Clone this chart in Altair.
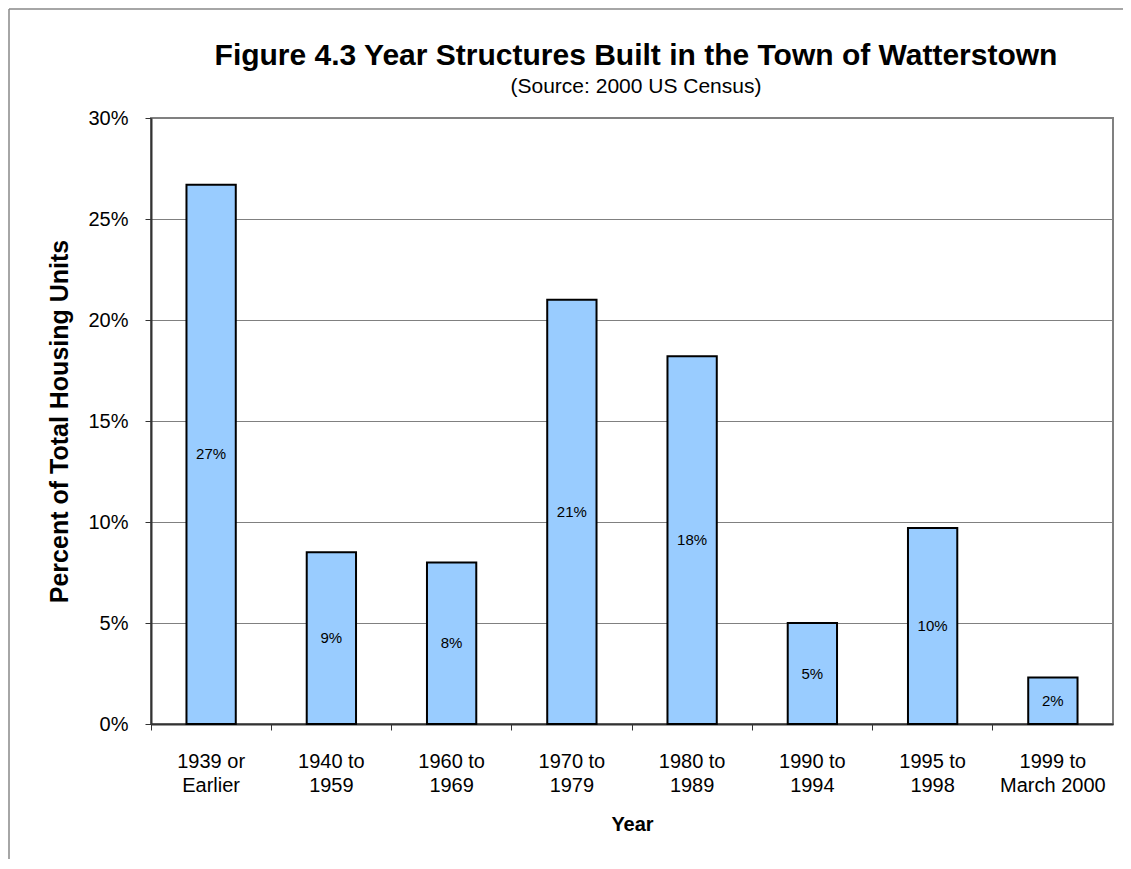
import altair as alt
import pandas as pd

categories = ["1939 or\nEarlier", "1940 to\n1959", "1960 to\n1969", "1970 to\n1979",
              "1980 to\n1989", "1990 to\n1994", "1995 to\n1998", "1999 to\nMarch 2000"]
percents = [26.7, 8.5, 8.0, 21.0, 18.2, 5.0, 9.7, 2.3]
bar_labels = ["27%", "9%", "8%", "21%", "18%", "5%", "10%", "2%"]
y_ticks = [0, 5, 10, 15, 20, 25, 30]

df = pd.DataFrame({"cat": categories, "pct": percents, "lab": bar_labels})
df["mid"] = df["pct"] / 2

FONT = "Liberation Sans"
W, H = 962, 606

xscale = alt.Scale(domain=categories, paddingInner=0, paddingOuter=0)
yscale = alt.Scale(domain=[0, 30], nice=False)

xaxis = alt.Axis(title="Year", labelExpr="split(datum.label, '\\n')",
                 labelAngle=0, labelFontSize=20, labelLineHeight=24,
                 labelPadding=21, labelColor="black", labelFont=FONT,
                 bandPosition=0,
                 ticks=True, tickSize=6, tickColor="#333333",
                 domainColor="#333333", domainWidth=2,
                 titleFont=FONT, titleFontSize=20, titleFontWeight="bold",
                 titlePadding=19, titleColor="black")
yaxis = alt.Axis(title="Percent of Total Housing Units", values=y_ticks,
                 labelExpr="datum.value + '%'", labelFontSize=20,
                 labelFont=FONT, labelColor="black", labelPadding=17,
                 tickSize=6, tickColor="#333333", domainColor="#333333",
                 domainWidth=2, gridColor="#808080", gridWidth=1,
                 titleFont=FONT, titleFontSize=25, titleFontWeight="bold",
                 titleColor="black", titlePadding=15)

base = alt.Chart(df)

bars = base.mark_bar(color="#99CCFF", stroke="black", strokeWidth=2,
                     width=alt.RelativeBandSize(0.41)).encode(
    x=alt.X("cat:N", scale=xscale, sort=None, axis=xaxis),
    y=alt.Y("pct:Q", scale=yscale, axis=yaxis),
)

texts = base.mark_text(font=FONT, fontSize=15, color="black").encode(
    x=alt.X("cat:N", scale=xscale, sort=None, axis=xaxis),
    y=alt.Y("mid:Q", scale=yscale, axis=yaxis),
    text="lab:N",
)

frame_left = alt.Chart(df.head(1)).mark_rule(color="#888888", strokeWidth=1.5, clip=False).encode(
    x=alt.value(-142), y=alt.value(-109), y2=alt.value(760))
frame_top = alt.Chart(df.head(1)).mark_rule(color="#888888", strokeWidth=1.5, clip=False).encode(
    x=alt.value(-142), x2=alt.value(975), y=alt.value(-109))

chart = alt.layer(frame_left, frame_top, bars, texts).properties(
    width=W, height=H,
    autosize=alt.AutoSizeParams(type="none"),
    padding={"left": 143, "top": 110, "right": 10, "bottom": 135},
    background="white",
    title=alt.TitleParams(
        text="Figure 4.3 Year Structures Built in the Town of Watterstown",
        subtitle="(Source: 2000 US Census)",
        font=FONT, fontSize=30, fontWeight="bold", color="black",
        subtitleFont=FONT, subtitleFontSize=21, subtitleColor="black",
        subtitlePadding=5, anchor="middle", offset=-89, dx=4,
    ),
).configure_view(stroke="#808080", strokeWidth=2)

chart.save("out.html", embed_options={"renderer": "svg", "actions": False})
